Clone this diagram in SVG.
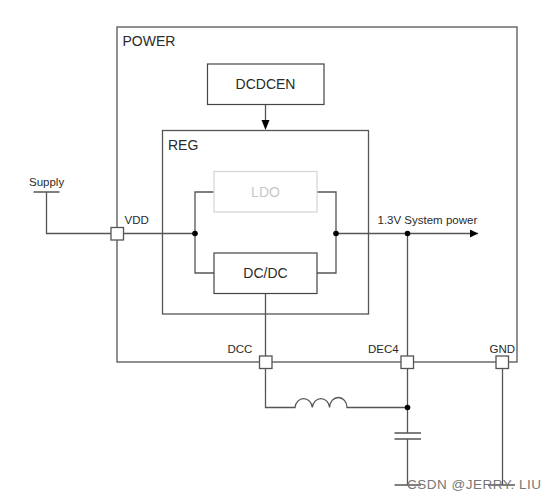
<svg xmlns="http://www.w3.org/2000/svg" width="556" height="499" viewBox="0 0 556 499">
<style>
.b{fill:none;stroke:#555;stroke-width:1.3}
.n{fill:#fff;stroke:#444;stroke-width:1.2}
.w{fill:none;stroke:#555;stroke-width:1.3}
.t{font-family:"Liberation Sans",Arial,sans-serif;fill:#2a2a2a}
.s{font-size:11.500px}
.d{fill:#000}
.p{fill:#fff;stroke:#555;stroke-width:1.3}
</style>
<defs>
<marker id="arr" markerUnits="userSpaceOnUse" markerWidth="9" markerHeight="9" refX="8" refY="4" orient="auto"><path d="M0 0L8 4L0 8Z" fill="#000"/></marker>
</defs>
<rect width="556" height="499" fill="#fff"/>
<g id="power"><rect class="b" x="117" y="27" width="400" height="335"/><text class="t" x="122.500" y="45.500" font-size="14">POWER</text></g>
<g id="reg"><rect class="b" x="162.500" y="130.500" width="206" height="183.500"/><text class="t" x="168" y="149.500" font-size="14">REG</text></g>
<g id="connectors">
<path class="w" d="M33.500 192H59.500M46.500 192V233.500H195"/>
<path class="w" d="M214 192H195V273H214"/>
<path class="w" d="M317 192H336V273H317"/>
<path class="w" d="M336 233.500H478" marker-end="url(#arr)"/>
<path class="w" d="M265.500 104.500V122"/>
<path d="M261.500 120L269.500 120L265.500 130Z" fill="#000"/>
<path class="w" d="M265.500 293.500V407.500H295A8.700 10 0 0 1 312.300 407.500A8.700 10 0 0 1 329.600 407.500A8.700 10 0 0 1 347 407.500H407.500"/>
<path class="w" d="M407.500 233.500V433M407.500 439V485M394.500 433H421M394.500 439H421M394.500 485H421"/>
<path class="w" d="M502.500 362V485M488 485H515"/>
<circle class="d" cx="195" cy="233.500" r="2.800"/>
<circle class="d" cx="336" cy="233.500" r="2.800"/>
<circle class="d" cx="407.500" cy="233.500" r="2.800"/>
<circle class="d" cx="407.500" cy="407.500" r="2.800"/>
</g>
<g id="dcdcen"><rect class="n" x="207.500" y="64" width="116.500" height="40.500"/><text class="t" x="265.500" y="89" font-size="14" text-anchor="middle">DCDCEN</text></g>
<g id="ldo"><rect x="214" y="171.500" width="103" height="40.500" fill="#fff" stroke="#d4d4d4" stroke-width="1.2"/><text x="265.500" y="196.500" font-size="14" text-anchor="middle" font-family="Liberation Sans,Arial,sans-serif" fill="#c8c8c8">LDO</text></g>
<g id="dcdc"><rect class="n" x="214" y="253" width="103" height="40.500"/><text class="t" x="265.500" y="278" font-size="14" text-anchor="middle">DC/DC</text></g>
<g id="supply"><text class="t s" x="29" y="186">Supply</text></g>
<g id="vdd"><rect class="p" x="111" y="227.500" width="12.500" height="12.500"/><text class="t s" x="124.500" y="224">VDD</text></g>
<g id="dcc"><rect class="p" x="259.500" y="356" width="12.500" height="12.500"/><text class="t s" x="227.500" y="353">DCC</text></g>
<g id="dec4"><rect class="p" x="401" y="356" width="12.500" height="12.500"/><text class="t s" x="368" y="353">DEC4</text></g>
<g id="gnd"><rect class="p" x="496" y="356" width="12.500" height="12.500"/><text class="t s" x="489.500" y="353">GND</text></g>
<g id="sys"><text class="t s" x="377.500" y="224">1.3V System power</text></g>
<text x="407" y="489" font-size="13.500" font-family="Liberation Sans,Arial,sans-serif" fill="#777" letter-spacing="0.5">CSDN @JERRY. LIU</text>
</svg>
